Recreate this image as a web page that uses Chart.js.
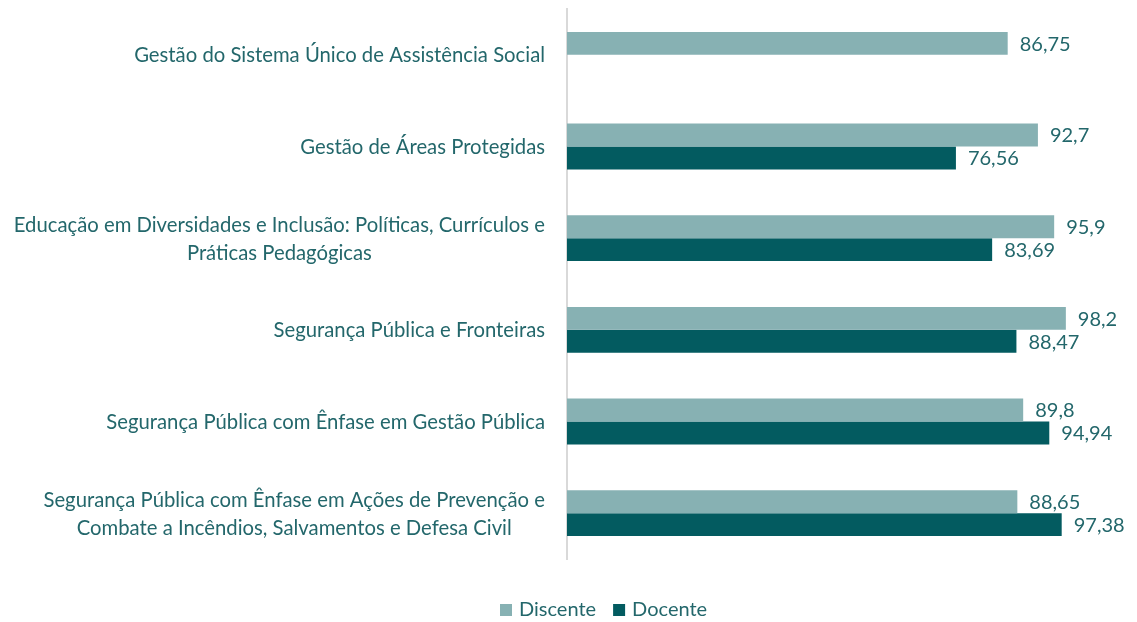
<!DOCTYPE html>
<html>
<head>
<meta charset="utf-8">
<script src="https://cdn.jsdelivr.net/npm/chart.js@4.4.0/dist/chart.umd.min.js"></script>
<style>
html,body{margin:0;padding:0;background:#fff;}
#wrap{width:1137px;height:622px;position:relative;}
</style>
</head>
<body>
<div id="wrap"><canvas id="c" width="1137" height="622"></canvas></div>
<script>
const categories = [
  "Gestão do Sistema Único de Assistência Social",
  "Gestão de Áreas Protegidas",
  ["Educação em Diversidades e Inclusão: Políticas, Currículos e", "Práticas Pedagógicas"],
  "Segurança Pública e Fronteiras",
  "Segurança Pública com Ênfase em Gestão Pública",
  ["Segurança Pública com Ênfase em Ações de Prevenção e", "Combate a Incêndios, Salvamentos e Defesa Civil"]
];
const discente = [86.75, 92.7, 95.9, 98.2, 89.8, 88.65];
const docente = [null, 76.56, 83.69, 88.47, 94.94, 97.38];
const seriesNames = ["Discente", "Docente"];

const FONT = "Lato";
const TEXT = "#23676B";

const valueLabels = {
  id: 'valueLabels',
  afterDatasetsDraw(chart) {
    const ctx = chart.ctx;
    ctx.save();
    ctx.font = "20px " + FONT;
    ctx.fillStyle = TEXT;
    ctx.textAlign = 'left';
    ctx.textBaseline = 'middle';
    chart.data.datasets.forEach((ds, i) => {
      const meta = chart.getDatasetMeta(i);
      meta.data.forEach((bar, j) => {
        const v = ds.data[j];
        if (v === null || v === undefined) return;
        ctx.fillText(String(v).replace('.', ','), bar.x + 12, bar.y + 1);
      });
    });
    ctx.restore();
  }
};

// Category labels: block right-aligned near the axis, lines centred within the block
const categoryLabels = {
  id: 'categoryLabels',
  afterDraw(chart) {
    const ctx = chart.ctx;
    const scale = chart.scales.y;
    ctx.save();
    ctx.font = "20.3px " + FONT;
    ctx.fillStyle = TEXT;
    ctx.textAlign = 'center';
    ctx.textBaseline = 'middle';
    const right = scale.right - 22;
    const lh = 28;
    chart.data.labels.forEach((lab, i) => {
      const lines = Array.isArray(lab) ? lab : [lab];
      const w = Math.max(...lines.map(l => ctx.measureText(l).width));
      const cx = right - w / 2;
      const cy = scale.getPixelForTick(i);
      const y0 = cy - (lines.length - 1) * lh / 2;
      lines.forEach((l, k) => ctx.fillText(l, cx, y0 + k * lh + 1));
    });
    ctx.restore();
  }
};

const customLegend = {
  id: 'customLegend',
  afterDraw(chart) {
    const ctx = chart.ctx;
    ctx.save();
    ctx.font = "20px " + FONT;
    ctx.textBaseline = 'middle';
    ctx.textAlign = 'left';
    const y = 610;
    let x = 500;
    chart.data.datasets.forEach((ds) => {
      ctx.fillStyle = ds.backgroundColor;
      ctx.fillRect(x, y - 6, 12, 12);
      x += 12 + 7;
      ctx.fillStyle = TEXT;
      ctx.fillText(ds.label, x, y);
      x += ctx.measureText(ds.label).width + 17;
    });
    ctx.restore();
  }
};

new Chart(document.getElementById('c'), {
  type: 'bar',
  data: {
    labels: categories,
    datasets: [
      { label: seriesNames[0], data: discente, backgroundColor: '#87B1B3' },
      { label: seriesNames[1], data: docente, backgroundColor: '#035B60' }
    ]
  },
  options: {
    indexAxis: 'y',
    responsive: false,
    animation: false,
    layout: { padding: { top: 9, right: 62, bottom: 63, left: 0 } },
    datasets: { bar: { categoryPercentage: 0.5, barPercentage: 1.0 } },
    scales: {
      x: {
        min: 0, max: 100,
        display: false
      },
      y: {
        grid: { display: false },
        border: { display: true, color: '#D9D9D9', width: 2 },
        ticks: { display: false },
        afterFit(scale) { scale.width = 567; scale.paddingTop = 0; scale.paddingBottom = 0; }
      }
    },
    plugins: {
      legend: { display: false },
      tooltip: { enabled: false }
    }
  },
  plugins: [valueLabels, categoryLabels, customLegend]
});
</script>
</body>
</html>
